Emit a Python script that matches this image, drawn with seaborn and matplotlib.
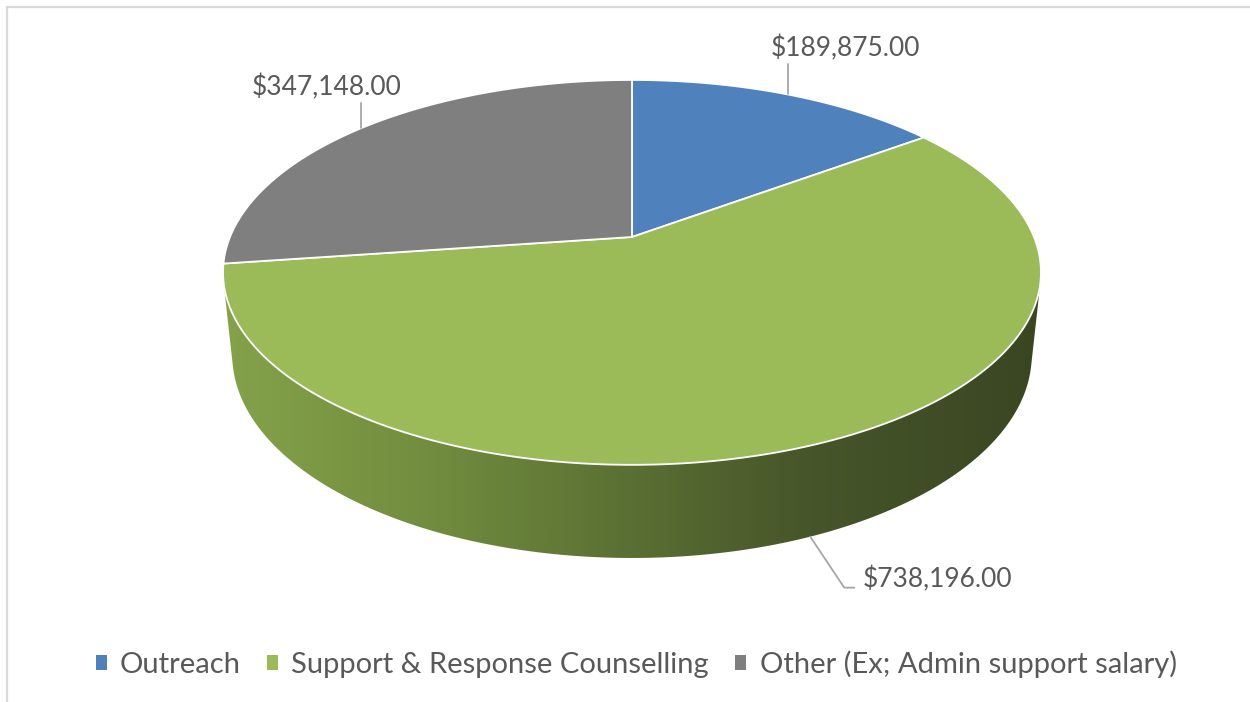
import numpy as np
import matplotlib
matplotlib.use("Agg")
import matplotlib.pyplot as plt
import seaborn as sns
from matplotlib.colors import LinearSegmentedColormap
from matplotlib.patches import Polygon, Patch
from matplotlib.lines import Line2D

# ---- data ----
categories = ["Outreach", "Support & Response Counselling", "Other (Ex; Admin support salary)"]
values = [189875.00, 738196.00, 347148.00]
value_labels = ["$189,875.00", "$738,196.00", "$347,148.00"]
slice_colors = ["#4F81BD", "#9BBB59", "#7F7F7F"]

sns.set_theme(style="white")
plt.rcParams["font.family"] = ["Lato", "DejaVu Sans"]

W, H, DPI = 1250, 702, 100
fig = plt.figure(figsize=(W / DPI, H / DPI), dpi=DPI)
ax = fig.add_axes([0, 0, 1, 1])
ax.set_xlim(0, W)
ax.set_ylim(H, 0)
ax.axis("off")

# ---- perspective camera for a 3D disc (radius 1, thickness h) ----
x0, y0 = 632.0, 237.0
alpha = np.arcsin(0.4625)
cos_a, sin_a = np.cos(alpha), np.sin(alpha)
D = 4.82
F = 402.0 * D
h = 0.2334


def project(phi, z):
    """phi: clockwise angle from the back (12 o'clock), z: height."""
    u, v = np.sin(phi), np.cos(phi)
    depth = D + v * cos_a - z * sin_a
    X = x0 + F * u / depth
    Y = y0 - F * (v * sin_a + z * cos_a) / depth
    return X, Y


def convex_hull(pts):
    pts = sorted(map(tuple, pts))

    def cross(o, a, b):
        return (a[0] - o[0]) * (b[1] - o[1]) - (a[1] - o[1]) * (b[0] - o[0])

    lower, upper = [], []
    for p in pts:
        while len(lower) >= 2 and cross(lower[-2], lower[-1], p) <= 0:
            lower.pop()
        lower.append(p)
    for p in reversed(pts):
        while len(upper) >= 2 and cross(upper[-2], upper[-1], p) <= 0:
            upper.pop()
        upper.append(p)
    return np.array(lower[:-1] + upper[:-1])


frac = np.array(values) / np.sum(values)
edges = np.concatenate([[0], np.cumsum(frac)]) * 2 * np.pi

# ---- side wall with horizontal shading ----
ring = np.linspace(0, 2 * np.pi, 720, endpoint=False)
tx, ty = project(ring, 0.0)
bx, by = project(ring, -h)
hull = convex_hull(np.column_stack([np.r_[tx, bx], np.r_[ty, by]]))
side_patch = Polygon(hull, closed=True, facecolor="none", edgecolor="none")
ax.add_patch(side_patch)

side_cmap = LinearSegmentedColormap.from_list(
    "side",
    [(0.0, "#84A24A"), (0.25, "#728D3F"), (0.5, "#5A6F33"),
     (0.72, "#46552A"), (1.0, "#3A4622")])
xl, xr = tx.min(), tx.max()
grad = np.clip((np.arange(W) + 0.5 - xl) / (xr - xl), 0, 1)[None, :]
img = ax.imshow(np.repeat(grad, 4, axis=0), cmap=side_cmap, vmin=0, vmax=1,
                extent=(0, W, H, 0), origin="upper", aspect="auto",
                interpolation="bilinear", zorder=1)
img.set_clip_path(side_patch)

# ---- top face slices ----
for i in range(len(values)):
    phis = np.linspace(edges[i], edges[i + 1], 240)
    px, py = project(phis, 0.0)
    poly = np.column_stack([np.r_[x0, px], np.r_[y0, py]])
    ax.add_patch(Polygon(poly, closed=True, facecolor=slice_colors[i],
                         edgecolor="white", linewidth=1.3, joinstyle="miter",
                         zorder=2))

# ---- data labels with leader lines ----
text_color = "#595959"
line_color = "#A6A6A6"
fs = 19
mids = (edges[:-1] + edges[1:]) / 2

# Outreach: anchor on the top rim
ax_, ay_ = project(mids[0], 0.0)
ax.plot([ax_, ax_], [ay_, ay_ - 30], color=line_color, lw=1.3, zorder=3)
ax.text(ax_ - 17, ay_ - 46, value_labels[0], ha="left", va="center",
        fontsize=fs, color=text_color, zorder=4)

# Other: anchor on the top rim
ax_, ay_ = project(mids[2], 0.0)
ax.plot([ax_, ax_], [ay_, ay_ - 25], color=line_color, lw=1.3, zorder=3)
ax.text(ax_ - 35, ay_ - 41, value_labels[2], ha="center", va="center",
        fontsize=fs, color=text_color, zorder=4)

# Support & Response: anchor on the lower rim of the wall
ax_, ay_ = project(mids[1], -h)
ax.plot([ax_, ax_ + 34, ax_ + 44], [ay_, ay_ + 51, ay_ + 51],
        color=line_color, lw=1.3, zorder=3)
ax.text(ax_ + 52, ay_ + 43, value_labels[1], ha="left", va="center",
        fontsize=fs, color=text_color, zorder=4)

# ---- legend ----
handles = [Patch(facecolor=c, edgecolor="none") for c in slice_colors]
fig.legend(handles, categories, loc="center", bbox_to_anchor=(0.509, 1 - 664 / H),
           ncol=3, frameon=False, fontsize=21, labelcolor=text_color,
           handlelength=0.38, handleheight=0.38, handletextpad=0.45,
           columnspacing=0.9)

# ---- chart area border ----
ax.add_line(Line2D([7, W], [7, 7], color="#D9D9D9", lw=1.6, zorder=5))
ax.add_line(Line2D([7, 7], [7, H], color="#D9D9D9", lw=1.6, zorder=5))

fig.savefig("out.png", dpi=DPI, facecolor="white")
